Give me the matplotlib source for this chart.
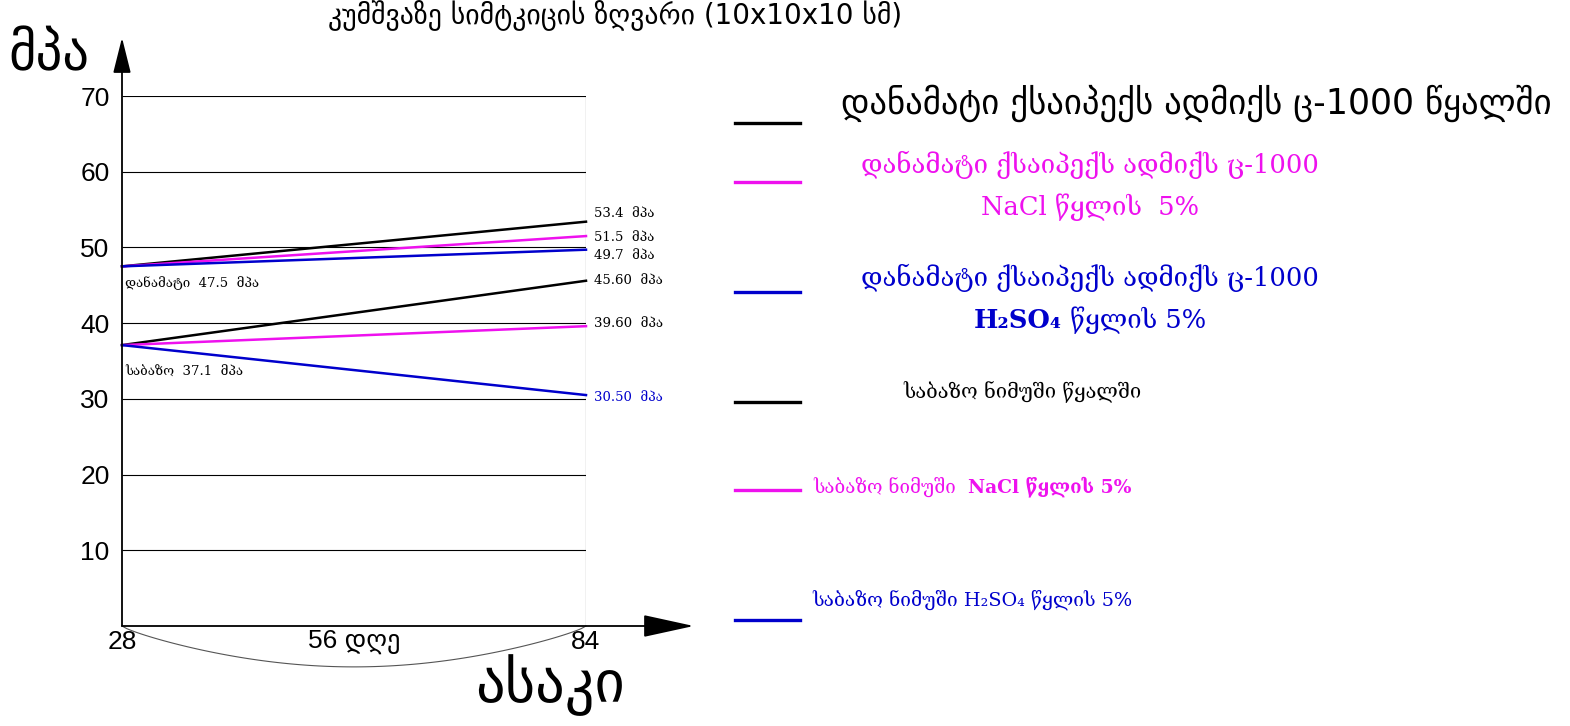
import numpy as np
import matplotlib
matplotlib.use("Agg")
import matplotlib.pyplot as plt
from matplotlib.lines import Line2D
from matplotlib.offsetbox import TextArea, HPacker, AnnotationBbox

plt.rcParams['font.family'] = ['DejaVu Sans']
SERIF = ['DejaVu Serif', 'DejaVu Sans']
ARIAL = ['Liberation Sans', 'DejaVu Sans']

# data
days = [28, 84]
added_water = [47.5, 53.4]
added_nacl = [47.5, 51.5]
added_h2so4 = [47.5, 49.7]
base_water = [37.1, 45.60]
base_nacl = [37.1, 39.60]
base_h2so4 = [37.1, 30.50]
end_labels = ["53.4  მპა", "51.5  მპა", "49.7  მპა", "45.60  მპა", "39.60  მპა", "30.50  მპა"]
y_ticks = [10, 20, 30, 40, 50, 60, 70]
x_ticks = [28, 56, 84]
x_ticklabels = ["28", "56 დღე", "84"]

series = [added_water, added_nacl, added_h2so4, base_water, base_nacl, base_h2so4]
colors = ["black", "#ee11ee", "#0000cc", "black", "#ee11ee", "#0000cc"]
label_colors = ["black", "black", "black", "black", "black", "#0000cc"]
label_dy = [1.1, -0.2, -0.8, 0.0, 0.4, -0.3]

# legend texts: lines of (text, bold) segments
legend_items = [
    [[("დანამატი ქსაიპექს ადმიქს ც-1000 წყალში", False)]],
    [[("დანამატი ქსაიპექს ადმიქს ც-1000", False)], [("NaCl წყლის  5%", False)]],
    [[("დანამატი ქსაიპექს ადმიქს ც-1000", False)], [("H₂SO₄", True), (" წყლის 5%", False)]],
    [[("საბაზო ნიმუში წყალში", False)]],
    [[("საბაზო ნიმუში  ", False), ("NaCl წყლის 5%", True)]],
    [[("საბაზო ნიმუში H₂SO₄ წყლის 5%", False)]],
]
legend_colors = ["black", "#ee11ee", "#0000cc", "black", "#ee11ee", "#0000cc"]

W, H = 1570, 726
fig = plt.figure(figsize=(15.7, 7.26), dpi=100)
ax = fig.add_axes([122 / W, 100 / H, 464 / W, 530 / H])
ax.set_xlim(28, 84)
ax.set_ylim(0, 70)
for s in ax.spines.values():
    s.set_visible(False)

# grid box
ax.hlines(y_ticks, 28, 84, color="black", lw=0.8)
ax.vlines(84, 0, 70, color="black", lw=0.8)

# axes with arrows
ax.annotate("", xy=(28, 77.7), xytext=(28, 0), annotation_clip=False,
            arrowprops=dict(arrowstyle="-|>,head_length=2.2,head_width=0.55",
                            color="black", lw=1.3, shrinkA=0, shrinkB=0))
ax.annotate("", xy=(97, 0), xytext=(28, 0), annotation_clip=False,
            arrowprops=dict(arrowstyle="-|>,head_length=3.2,head_width=0.7",
                            color="black", lw=1.3, shrinkA=0, shrinkB=0))

# arc under the x axis between the ticks
xa = np.linspace(days[0], days[1], 100)
t = (xa - days[0]) / (days[1] - days[0])
ax.plot(xa, -5.4 * np.sin(np.pi * t) ** 0.8, color="#555555", lw=0.8, clip_on=False)

ax.set_yticks(y_ticks)
ax.set_xticks(x_ticks)
ax.set_xticklabels(x_ticklabels)
ax.tick_params(axis="both", length=0, labelsize=19)
ax.tick_params(axis="y", pad=9)
ax.tick_params(axis="x", pad=3)
for lab in ax.get_yticklabels() + ax.get_xticklabels():
    lab.set_family(ARIAL)

for vals, c, lab, lc, dy in zip(series, colors, end_labels, label_colors, label_dy):
    ax.plot(days, vals, color=c, lw=1.8, clip_on=False)
    ax.text(85.0, vals[1] + dy, lab, color=lc, fontsize=9.5, va="center",
            family=SERIF)

ax.text(28.4, added_water[0] - 2.2, "დანამატი  47.5  მპა", fontsize=9.5,
        va="center", family=SERIF)
ax.text(28.4, base_water[0] - 3.6, "საბაზო  37.1  მპა", fontsize=9.5,
        va="center", family=SERIF)

# axis titles
fig.text(8 / W, 1 - 70 / H, "მპა", fontsize=38, va="baseline")
fig.text(550 / W, 1 - 702 / H, "ასაკი", fontsize=42, ha="center", va="baseline")
# title
fig.text(615 / W, 1 - 24 / H, "კუმშვაზე სიმტკიცის ზღვარი (10x10x10 სმ)",
         fontsize=20, ha="center", va="baseline")

# legend on the right
leg_y = [123, 182, 292, 402, 490, 620]
text_y = [103, 186, 299, 392, 487, 600]
text_x = [1196, 1090, 1090, 1022, 972, 972]
text_size = [25, 18.5, 18.5, 14.5, 13.5, 13.8]
text_font = [['DejaVu Sans'], SERIF, SERIF, SERIF, SERIF, SERIF]
for lines, c, ly, ty, tx, fs, ff in zip(legend_items, legend_colors, leg_y,
                                        text_y, text_x, text_size, text_font):
    fig.add_artist(Line2D([735 / W, 800 / W], [1 - ly / H, 1 - ly / H],
                          color=c, lw=2.4))
    n = len(lines)
    for i, segs in enumerate(lines):
        boxes = [TextArea(s, textprops=dict(color=c, fontsize=fs, family=ff,
                                            fontweight="bold" if b else "normal"))
                 for s, b in segs]
        pack = HPacker(children=boxes, pad=0, sep=0, align="baseline")
        yy = ty + (i - (n - 1) / 2) * 42
        ab = AnnotationBbox(pack, (tx / W, 1 - yy / H), xycoords="figure fraction",
                            box_alignment=(0.5, 0.5), frameon=False, pad=0)
        fig.add_artist(ab)

fig.savefig("out.png", dpi=100)
